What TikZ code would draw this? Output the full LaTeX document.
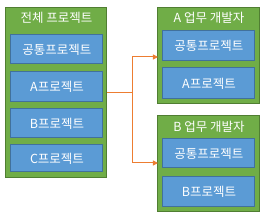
\documentclass[tikz,border=0pt]{standalone}
\usepackage{fontspec}
\setmainfont{Noto Sans CJK KR}
\usetikzlibrary{arrows.meta}
\definecolor{grfill}{HTML}{70AD47}
\definecolor{grline}{HTML}{507E32}
\definecolor{blfill}{HTML}{5B9BD5}
\definecolor{blline}{HTML}{41719C}
\definecolor{conn}{HTML}{ED7D31}
\begin{document}
\begin{tikzpicture}[x=1pt,y=-1pt,
  outer/.style={draw=grline,fill=grfill,line width=1pt},
  inner/.style={draw=blline,fill=blfill,line width=1pt},
  lbl/.style={text=white,font=\fontsize{12.5}{14}\selectfont,inner sep=0pt},
  conline/.style={draw=conn,line width=1pt},
  arr/.style={conline,-{Triangle[length=5pt,width=5pt]}}]
\useasboundingbox (0,0) rectangle (266,219);
% left
\draw[outer] (6,8) rectangle (107,178);
\node[lbl] (lt) at (56.5,18) {전체 프로젝트};
\draw[inner] (11,35) rectangle node[lbl] (l1) {공통프로젝트} (103,64);
\draw[inner] (11,72) rectangle node[lbl] (l2) {A프로젝트} (103,102);
\draw[inner] (11,109) rectangle node[lbl] (l3) {B프로젝트} (103,138);
\draw[inner] (11,145) rectangle node[lbl] (l4) {C프로젝트} (103,172);
\coordinate (ls) at (107,93);
% A
\draw[outer] (158,8) rectangle (260,104);
\node[lbl] (at) at (209,18) {A 업무 개발자};
\draw[inner] (163,31) rectangle node[lbl] (a1) {공통프로젝트} (255,61);
\draw[inner] (163,68) rectangle node[lbl] (a2) {A프로젝트} (255,99);
% B
\draw[outer] (158,116) rectangle (260,212);
\node[lbl] (bt) at (209,127) {B 업무 개발자};
\draw[inner] (163,139) rectangle node[lbl] (b1) {공통프로젝트} (255,168);
\draw[inner] (163,177) rectangle node[lbl] (b2) {B프로젝트} (255,207);
\coordinate (ae) at (158,57);
\coordinate (be) at (158,163);
\coordinate (jn) at (133,93);
\draw[conline] (ls) -- (jn);
\draw[arr] (jn) |- (ae);
\draw[arr] (jn) |- (be);
\end{tikzpicture}
\end{document}
